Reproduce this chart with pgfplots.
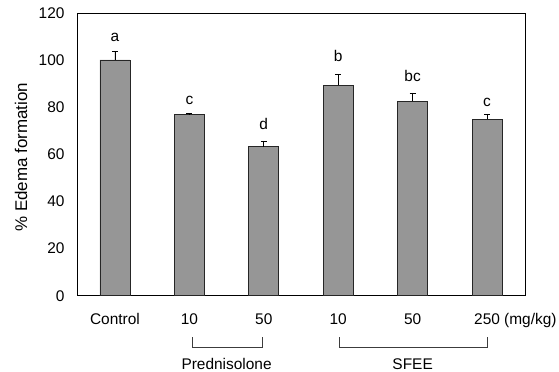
\documentclass[border=0pt]{standalone}
\usepackage{pgfplots}
\pgfplotsset{compat=1.18}
\usepackage{fontspec}
\setmainfont{Liberation Sans}
\definecolor{barfill}{RGB}{150,150,150}
\definecolor{brk}{RGB}{60,60,60}
\begin{document}
\begin{tikzpicture}
\begin{axis}[name=ax, scale only axis, width=448bp, height=282.7bp,
  xmin=-0.51, xmax=5.51, ymin=0, ymax=120,
  ytick={0,20,...,120}, xtick={0,...,5},
  xticklabels={Control,10,50,10,50,{250\rlap{~(mg/kg)}}},
  major tick length=0,
  /pgf/number format/assume math mode=true,
  ticklabel style={font=\fontsize{15.5}{18}\selectfont},
  xticklabel style={yshift=-14bp},
  yticklabel style={xshift=-9bp},
  ylabel={\% Edema formation},
  ylabel style={font=\fontsize{17}{19}\selectfont, at={(axis description cs:-0.125,0.49)}, anchor=center},
  clip=false, axis line style={black, line width=0.6pt}]
\addplot[ybar, bar width=30bp, fill=barfill, draw=black!85, line width=0.6pt,
  error bars/.cd, y dir=plus, y explicit,
  error bar style={black, line width=0.6pt},
  error mark options={rotate=90, mark size=3bp, line width=0.6pt}]
  coordinates {
  (0,100.1) +- (0,3.8)
  (1,76.9) +- (0,0.4)
  (2,63.3) +- (0,2.4)
  (3,89.4) +- (0,4.6)
  (4,82.6) +- (0,3.5)
  (5,74.8) +- (0,2.0)
  };
\begin{scope}[font=\fontsize{15.5}{18}\selectfont]
\node[anchor=base] at (axis cs:0,107.8) {a};
\node[anchor=base] at (axis cs:1,81.1) {c};
\node[anchor=base] at (axis cs:2,70.5) {d};
\node[anchor=base] at (axis cs:3,99.6) {b};
\node[anchor=base] at (axis cs:4,90.8) {bc};
\node[anchor=base] at (axis cs:5,80.4) {c};
\draw[brk, line width=0.6pt] (axis cs:1.035,-17.6) -- (axis cs:1.035,-21.8) -- (axis cs:1.976,-21.8) -- (axis cs:1.976,-17.6);
\draw[brk, line width=0.6pt] (axis cs:3.01,-17.6) -- (axis cs:3.01,-21.8) -- (axis cs:5.0,-21.8) -- (axis cs:5.0,-17.6);
\node at (axis cs:1.5,-29) {Prednisolone};
\node at (axis cs:4.0,-29) {SFEE};
\end{scope}
\end{axis}
\pgfresetboundingbox
\path[use as bounding box] (ax.south west) ++(-77bp,-76.3bp) rectangle ++(559bp,372bp);
\end{tikzpicture}
\end{document}
